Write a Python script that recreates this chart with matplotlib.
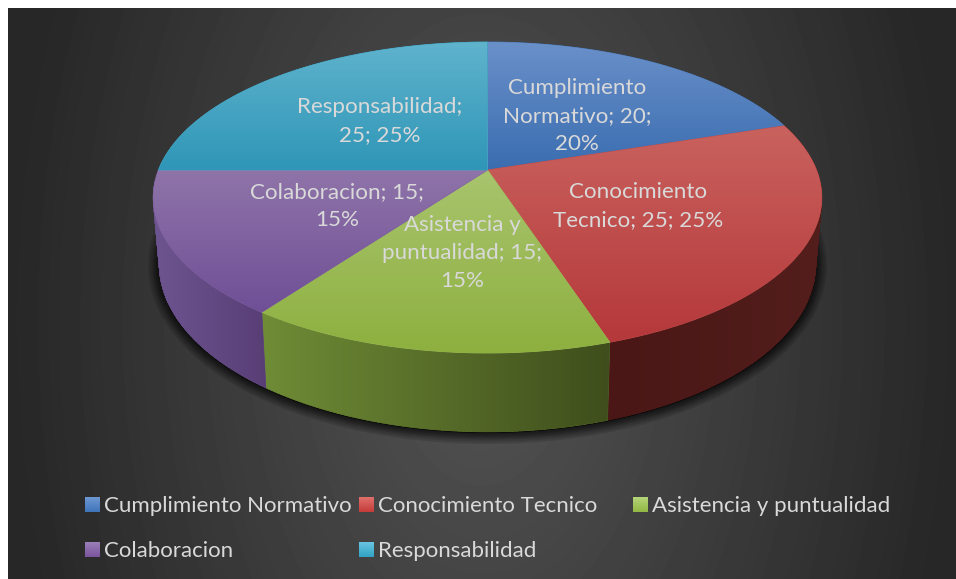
#!/usr/bin/env python3
import numpy as np
import matplotlib
matplotlib.use('Agg')
import matplotlib.pyplot as plt
from matplotlib.patches import Polygon, PathPatch
from matplotlib.path import Path

plt.rcParams['font.family'] = ['Lato', 'DejaVu Sans']

categories = ['Cumplimiento Normativo', 'Conocimiento Tecnico',
              'Asistencia y puntualidad', 'Colaboracion', 'Responsabilidad']
values = [20, 25, 15, 15, 25]
label_wraps = ['Cumplimiento\nNormativo; {v};\n{p}%',
               'Conocimiento\nTecnico; {v}; {p}%',
               'Asistencia y\npuntualidad; {v};\n{p}%',
               'Colaboracion; {v};\n{p}%',
               'Responsabilidad;\n{v}; {p}%']

# gradient colours of top face (top, bottom) and of the side (left, right)
topColors = [('#6a90c9', '#3a6db0'), ('#c9625e', '#b5383a'), ('#a9c46e', '#8db03f'),
             ('#8f74a9', '#6f4f96'), ('#5fb3cd', '#2f96b7')]
sideColors = [('#2f4f7a', '#2f4f7a'), ('#4a1716', '#531e1c'), ('#6f8c36', '#3f4e1c'),
              ('#6d5590', '#593e76'), ('#2f7a90', '#2f7a90')]
swatchColors = [('#6e97d2', '#3f75ba'), ('#e0706b', '#c53c3a'), ('#b5d47a', '#92b843'),
                ('#9a7fb8', '#7a559c'), ('#68c4e0', '#33a3c6')]

labelPos = [(577, 116), (638, 206), (462, 253), (337, 206), (380, 121)]
legendPos = [(85, 505), (359, 505), (633, 505), (85, 550), (359, 550)]

textColor = '#d9d9d9'
W, H = 956, 579
cx, cy = 487.5, 170.0
persp = 0.177


def rgb(c):
    return np.array(matplotlib.colors.to_rgb(c))


def rim(theta, a, b, yc):
    # theta clockwise from the top of the pie, with a simple perspective
    u, v = np.sin(theta), np.cos(theta)
    w = 1 + persp * v
    return np.column_stack([cx + a * u / w, yc - b * v / w])


def top_rim(theta):
    return rim(theta, 329, 150.6, cy)


def bottom_rim(theta):
    return rim(theta, 323, 162, cy + 65)


def strip_path(up, lo):
    # union of small quads, same winding everywhere, the rims cross near the far ends
    quads = []
    for j in range(len(up) - 1):
        q = np.array([up[j], up[j + 1], lo[j + 1], lo[j]])
        x, y = q[:, 0], q[:, 1]
        area = np.sum(x * np.roll(y, -1) - np.roll(x, -1) * y)
        if area < 0:
            q = q[::-1]
        quads.append(Path(np.vstack([q, q[0]]), closed=True))
    return Path.make_compound_path(*quads)


fig = plt.figure(figsize=(W / 100, H / 100), dpi=100, facecolor='white')
ax = fig.add_axes([0, 0, 1, 1])
ax.set_xlim(0, W)
ax.set_ylim(H, 0)
ax.axis('off')
ax.set_autoscale_on(False)

# background
xx, yy = np.meshgrid(np.arange(8, W), np.arange(8, H))
r = np.sqrt(((xx - 482) / 474.0) ** 2 + ((yy - 320) / 800.0) ** 2)
grey = 0x54 - (0x54 - 0x27) * np.clip(r, 0, 1)
ax.imshow(grey / 255.0, extent=(8, W, H, 8), cmap='gray', vmin=0, vmax=1,
          aspect='auto', interpolation='bilinear', zorder=0)

# soft shadow under the pie
tt = np.linspace(0, 2 * np.pi, 361)
shadow = bottom_rim(tt) + [0, 1]
for lw in [16, 13, 10, 8, 6, 4, 2]:
    ax.add_patch(Polygon(shadow, closed=True, fc='black', ec='black', lw=lw, alpha=0.13,
                         joinstyle='round', zorder=1))

edges = np.cumsum([0] + values) / np.sum(values) * 2 * np.pi

# side of the pie, left to right gradient clipped to each slice
for i in range(len(values)):
    t = np.linspace(edges[i], edges[i + 1], 91)
    up, lo = top_rim(t), bottom_rim(t)
    pts = np.vstack([up, lo])
    c0, c1 = rgb(sideColors[i][0]), rgb(sideColors[i][1])
    patch = PathPatch(strip_path(up, lo), fc=(c0 + c1) / 2, ec=(c0 + c1) / 2, lw=0.5, zorder=2)
    ax.add_patch(patch)
    grad = np.linspace(0, 1, 256)[None, :, None] * (c1 - c0) + c0
    x0, y0 = pts.min(axis=0)
    x1, y1 = pts.max(axis=0)
    im = ax.imshow(grad, extent=(x0, x1, y1, y0), aspect='auto',
                   interpolation='bilinear', zorder=2)
    im.set_clip_path(patch)

# top faces, each with its own vertical gradient
for i in range(len(values)):
    t = np.linspace(edges[i], edges[i + 1], 91)
    pts = np.vstack([[cx, cy], top_rim(t)])
    c0, c1 = rgb(topColors[i][0]), rgb(topColors[i][1])
    # solid underlay so no seam shows between the clipped images
    poly = Polygon(pts, closed=True, fc=(c0 + c1) / 2, ec=(c0 + c1) / 2, lw=0.6, zorder=3)
    ax.add_patch(poly)
    grad = np.linspace(0, 1, 256)[:, None, None] * (c1 - c0) + c0
    x0, y0 = pts.min(axis=0)
    x1, y1 = pts.max(axis=0)
    im = ax.imshow(grad, extent=(x0, x1, y1, y0), aspect='auto',
                   interpolation='bilinear', zorder=3)
    im.set_clip_path(poly)

# data labels
total = sum(values)
for i, v in enumerate(values):
    ax.text(labelPos[i][0], labelPos[i][1],
            label_wraps[i].format(v=v, p=round(100 * v / total)),
            color=textColor, fontsize=16.1, ha='center', va='center',
            linespacing=1.5, zorder=5)

# legend
for i, cat in enumerate(categories):
    x, y = legendPos[i]
    c0, c1 = rgb(swatchColors[i][0]), rgb(swatchColors[i][1])
    grad = np.linspace(0, 1, 32)[:, None, None] * (c1 - c0) + c0
    ax.imshow(grad, extent=(x, x + 15, y + 7.5, y - 7.5), aspect='auto',
              interpolation='bilinear', zorder=3)
    ax.text(x + 19.5, y + 1, cat, color=textColor, fontsize=16, ha='left', va='center', zorder=5)

fig.savefig('out.png', dpi=100, facecolor='white')
